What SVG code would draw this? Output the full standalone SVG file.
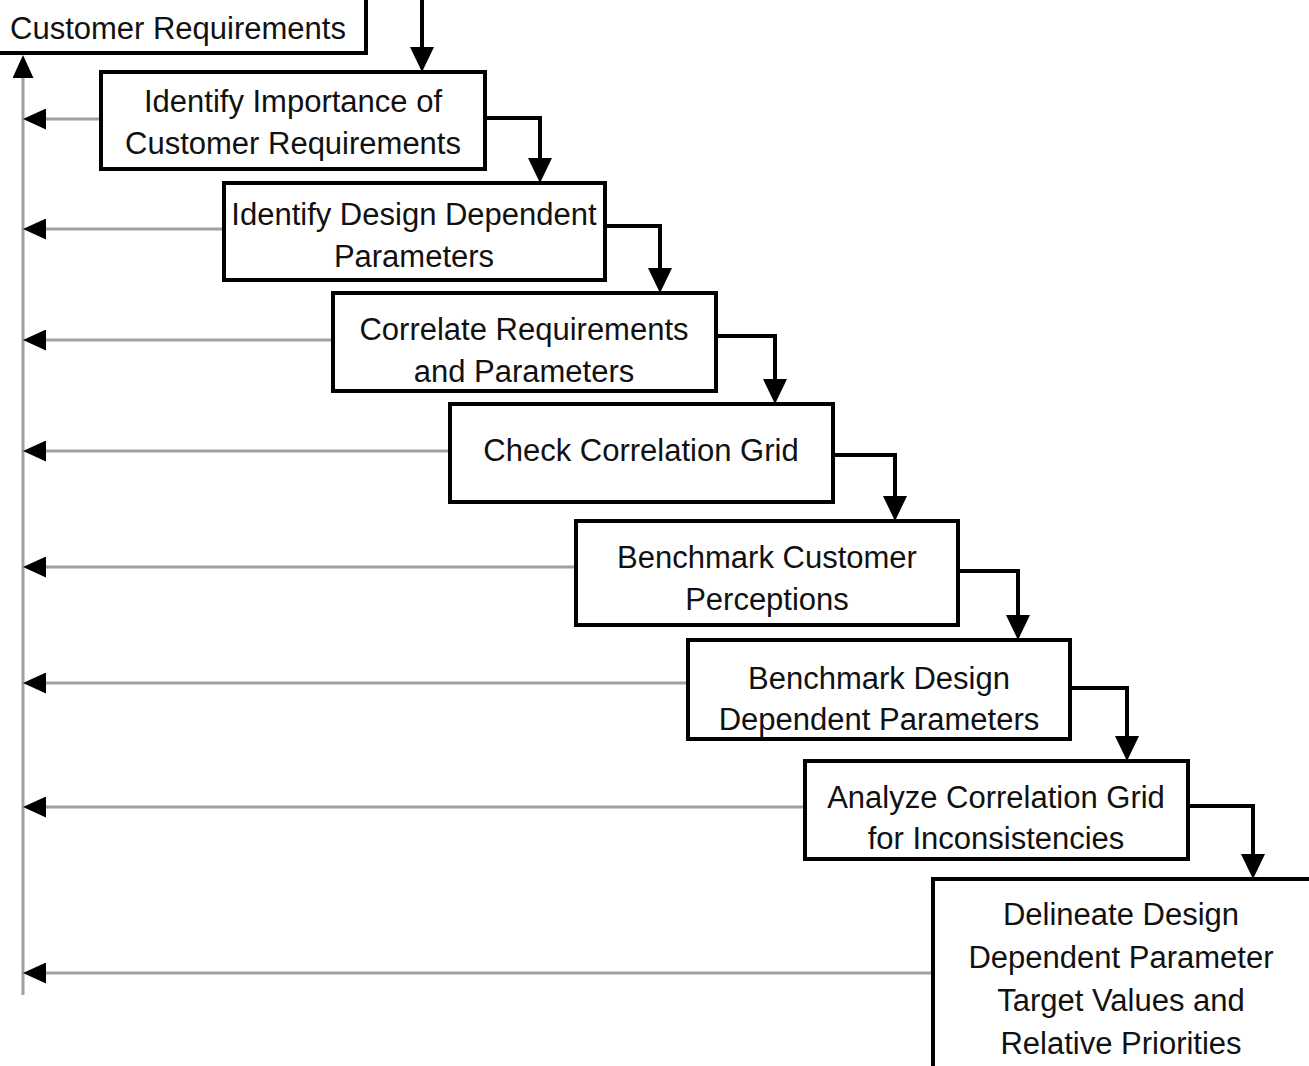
<svg xmlns="http://www.w3.org/2000/svg" width="1309" height="1066" viewBox="0 0 1309 1066">
<defs>
<style>
.box{fill:#fff;stroke:#000;stroke-width:4}
.t{font-family:"Liberation Sans",Arial,sans-serif;font-size:31px;fill:#111;text-anchor:middle}
.flow{fill:none;stroke:#000;stroke-width:4}
.fb{fill:none;stroke:#a0a0a0;stroke-width:3}
</style>
<marker id="ah" markerUnits="userSpaceOnUse" viewBox="0 0 25 24" markerWidth="25" markerHeight="24" refX="17" refY="12" orient="auto">
<path d="M0,0 L25,12 L0,24 Z" fill="#000"/>
</marker>
<marker id="ag" markerUnits="userSpaceOnUse" viewBox="0 0 23 21" markerWidth="23" markerHeight="21" refX="15" refY="10.5" orient="auto">
<path d="M0,0 L23,10.5 L0,21 Z" fill="#000"/>
</marker>
</defs>
<rect width="1309" height="1066" fill="#fff"/>
<g id="connectors">
<path class="fb" d="M23,995 V63" marker-end="url(#ag)"/>
<path class="fb" d="M101,119 H31" marker-end="url(#ag)"/>
<path class="fb" d="M224,229 H31" marker-end="url(#ag)"/>
<path class="fb" d="M333,340 H31" marker-end="url(#ag)"/>
<path class="fb" d="M450,451 H31" marker-end="url(#ag)"/>
<path class="fb" d="M576,567 H31" marker-end="url(#ag)"/>
<path class="fb" d="M688,683 H31" marker-end="url(#ag)"/>
<path class="fb" d="M805,807 H31" marker-end="url(#ag)"/>
<path class="fb" d="M933,973 H31" marker-end="url(#ag)"/>
<path class="flow" d="M422,0 V64" marker-end="url(#ah)"/>
<path class="flow" d="M485,118 H540 V175" marker-end="url(#ah)"/>
<path class="flow" d="M605,226 H660 V285" marker-end="url(#ah)"/>
<path class="flow" d="M716,336 H775 V396" marker-end="url(#ah)"/>
<path class="flow" d="M833,455 H895 V513" marker-end="url(#ah)"/>
<path class="flow" d="M958,571 H1018 V632" marker-end="url(#ah)"/>
<path class="flow" d="M1070,688 H1127 V753" marker-end="url(#ah)"/>
<path class="flow" d="M1188,806 H1253 V871" marker-end="url(#ah)"/>
</g>
<g id="n0">
<rect class="box" x="-10" y="-10" width="376" height="63"/>
<text class="t" x="10" y="39" style="text-anchor:start">Customer Requirements</text>
</g>
<g id="n1">
<rect class="box" x="101" y="72" width="384" height="97"/>
<text class="t" x="293" y="112">Identify Importance of</text>
<text class="t" x="293" y="154">Customer Requirements</text>
</g>
<g id="n2">
<rect class="box" x="224" y="183" width="381" height="97"/>
<text class="t" x="414" y="225">Identify Design Dependent</text>
<text class="t" x="414" y="267">Parameters</text>
</g>
<g id="n3">
<rect class="box" x="333" y="293" width="383" height="98"/>
<text class="t" x="524" y="340">Correlate Requirements</text>
<text class="t" x="524" y="382">and Parameters</text>
</g>
<g id="n4">
<rect class="box" x="450" y="404" width="383" height="98"/>
<text class="t" x="641" y="461">Check Correlation Grid</text>
</g>
<g id="n5">
<rect class="box" x="576" y="521" width="382" height="104"/>
<text class="t" x="767" y="568">Benchmark Customer</text>
<text class="t" x="767" y="610">Perceptions</text>
</g>
<g id="n6">
<rect class="box" x="688" y="640" width="382" height="99"/>
<text class="t" x="879" y="689">Benchmark Design</text>
<text class="t" x="879" y="730">Dependent Parameters</text>
</g>
<g id="n7">
<rect class="box" x="805" y="761" width="383" height="98"/>
<text class="t" x="996" y="808">Analyze Correlation Grid</text>
<text class="t" x="996" y="849">for Inconsistencies</text>
</g>
<g id="n8">
<rect class="box" x="933" y="879" width="400" height="200"/>
<text class="t" x="1121" y="925">Delineate Design</text>
<text class="t" x="1121" y="968">Dependent Parameter</text>
<text class="t" x="1121" y="1011">Target Values and</text>
<text class="t" x="1121" y="1054">Relative Priorities</text>
</g>
</svg>
